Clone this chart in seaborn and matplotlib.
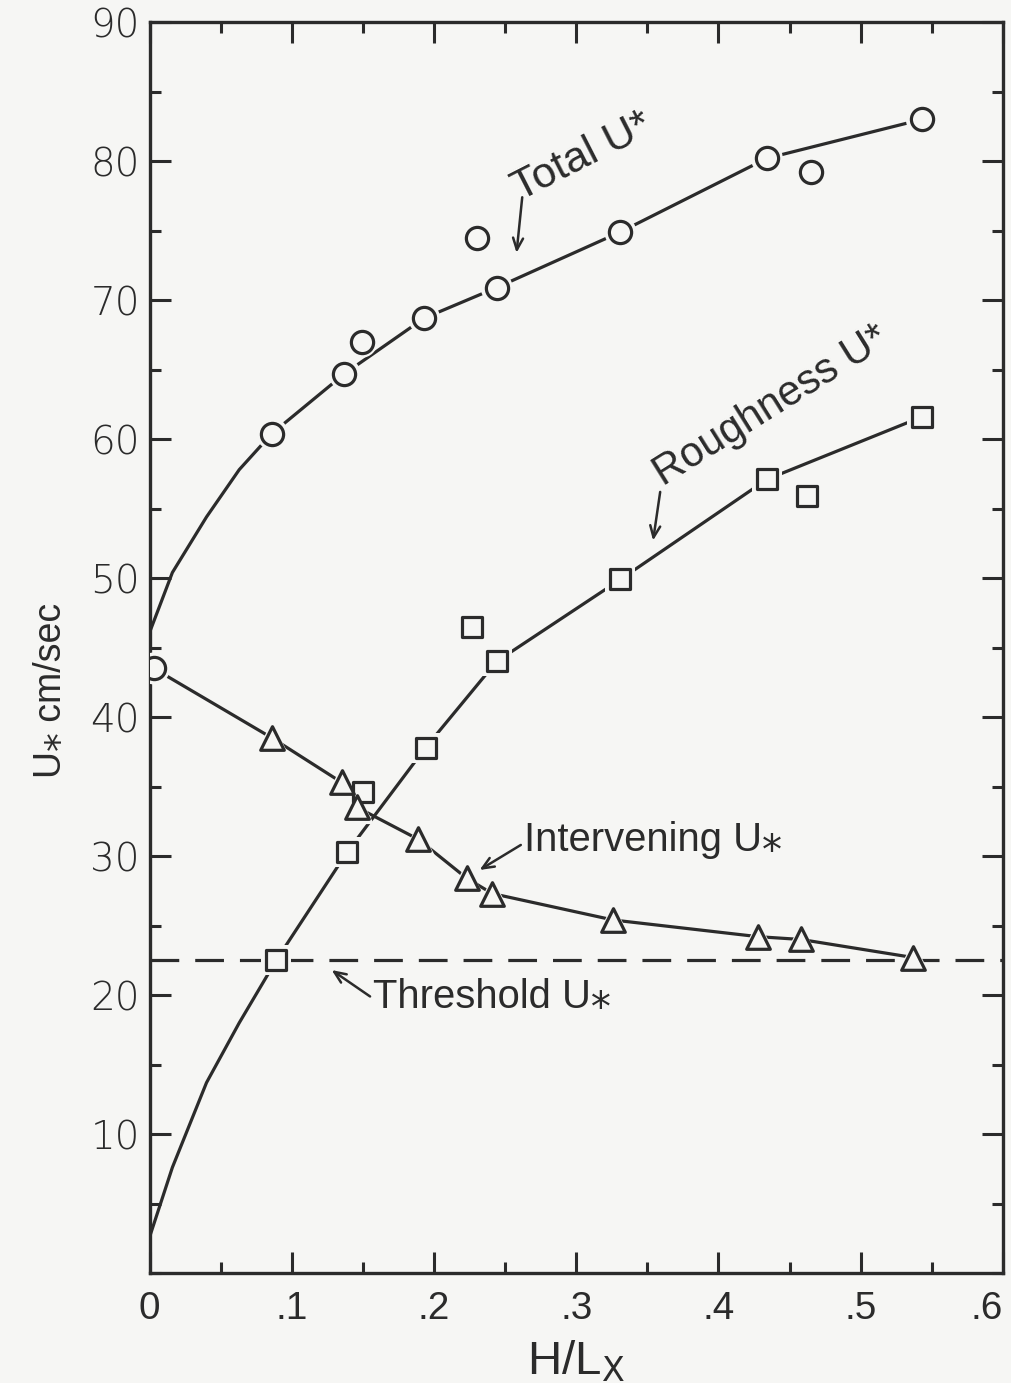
import matplotlib
matplotlib.use("Agg")
import matplotlib.pyplot as plt
import matplotlib.font_manager as fm
from matplotlib.ticker import FixedLocator, MultipleLocator
import pandas as pd
import seaborn as sns

# ---- data: friction velocity U* (cm/sec) versus roughness density H/Lx ----
total_x = [0.003, 0.086, 0.137, 0.149, 0.193, 0.230, 0.244, 0.331, 0.434, 0.465, 0.543]
total_y = [43.5, 60.4, 64.7, 67.0, 68.7, 74.5, 70.9, 74.9, 80.2, 79.2, 83.0]

rough_x = [0.089, 0.139, 0.150, 0.194, 0.227, 0.244, 0.331, 0.434, 0.462, 0.543]
rough_y = [22.5, 30.3, 34.6, 37.8, 46.5, 44.0, 49.9, 57.1, 55.9, 61.6]

interv_x = [0.086, 0.135, 0.146, 0.189, 0.223, 0.241, 0.326, 0.428, 0.458, 0.537]
interv_y = [38.5, 35.3, 33.5, 31.2, 28.4, 27.3, 25.4, 24.2, 24.0, 22.7]

# hand-fitted curves through the observations
total_curve_x = [0.0, 0.016, 0.040, 0.063, 0.086, 0.137, 0.193, 0.244, 0.331, 0.434, 0.543]
total_curve_y = [46.1, 50.4, 54.4, 57.8, 60.4, 64.7, 68.7, 70.9, 74.9, 80.2, 83.0]

rough_curve_x = [0.0, 0.016, 0.040, 0.063, 0.089, 0.139, 0.194, 0.244, 0.331, 0.434, 0.543]
rough_curve_y = [2.6, 7.6, 13.7, 18.0, 22.5, 30.3, 37.8, 44.0, 49.9, 57.1, 61.6]

interv_curve_x = [0.003, 0.086, 0.135, 0.146, 0.189, 0.223, 0.241, 0.326, 0.428, 0.458, 0.537]
interv_curve_y = [43.5, 38.5, 35.3, 33.5, 31.2, 28.4, 27.3, 25.4, 24.2, 24.0, 22.7]

threshold_u = 22.5

x_ticks = [0, 0.1, 0.2, 0.3, 0.4, 0.5, 0.6]
x_tick_labels = ["0", ".1", ".2", ".3", ".4", ".5", ".6"]
y_ticks = [10, 20, 30, 40, 50, 60, 70, 80, 90]
y_tick_labels = ["10", "20", "30", "40", "50", "60", "70", "80", "90"]

# ---- style ----
sns.set_theme(style="ticks")
INK = "#2b2b2b"
PAPER = "#f6f6f4"
REGULAR = ["Liberation Sans", "DejaVu Sans"]

# a condensed face for the labels if one is installed
_names = {f.name for f in fm.fontManager.ttflist}
if "Liberation Sans Narrow" in _names:
    NARROW, NSCALE = ["Liberation Sans Narrow", "DejaVu Sans"], 1.0
else:
    NARROW, NSCALE = REGULAR, 0.9

plt.rcParams["font.family"] = NARROW
plt.rcParams["mathtext.fontset"] = "dejavusans"

fig = plt.figure(figsize=(10.11, 13.83), dpi=100, facecolor=PAPER)
ax = fig.add_axes([0.148, 0.0795, 0.844, 0.9045])
ax.set_facecolor(PAPER)

LW = 2.3

# fitted curves
for cx, cy in [(total_curve_x, total_curve_y),
               (rough_curve_x, rough_curve_y),
               (interv_curve_x, interv_curve_y)]:
    sns.lineplot(x=cx, y=cy, ax=ax, color=INK, lw=LW, sort=False,
                 estimator=None, zorder=2)

# threshold line
ax.axhline(threshold_u, color=INK, lw=LW, dashes=(9, 5), zorder=2)

# markers with a paper-coloured halo so the lines stop short of them
def markers(xs, ys, marker, size):
    df = pd.DataFrame({"x": xs, "y": ys})
    sns.scatterplot(data=df, x="x", y="y", ax=ax, marker=marker, s=(size + 7) ** 2,
                    color=PAPER, edgecolor="none", linewidth=0, zorder=3)
    sns.scatterplot(data=df, x="x", y="y", ax=ax, marker=marker, s=size ** 2,
                    facecolor=PAPER, edgecolor=INK, linewidth=LW, zorder=4)

markers(total_x, total_y, "o", 16)
markers(rough_x, rough_y, "s", 14.5)
markers(interv_x, interv_y, "^", 17)

# ---- annotations ----
arrow = dict(arrowstyle="->,head_length=0.7,head_width=0.3", color=INK, lw=1.8,
             shrinkA=0, shrinkB=0)
USTAR = "U\u204e"   # U with a low asterisk

ax.text(0.304, 80.3, "Total U*", rotation=27, ha="center", va="center",
        fontsize=31, family=REGULAR, color=INK, rotation_mode="anchor",
        zorder=6)
ax.annotate("", xy=(0.258, 73.4), xytext=(0.262, 77.4), arrowprops=arrow)

ax.text(0.437, 62.4, "Roughness U*", rotation=32, ha="center", va="center",
        fontsize=30, family=REGULAR, color=INK, rotation_mode="anchor",
        zorder=6)
ax.annotate("", xy=(0.354, 52.7), xytext=(0.359, 56.2), arrowprops=arrow)

ax.text(0.263, 30.4, f"Intervening {USTAR}", ha="left", va="baseline",
        fontsize=32 * NSCALE, color=INK, zorder=6)
ax.annotate("", xy=(0.232, 29.0), xytext=(0.261, 30.8), arrowprops=arrow)

ax.text(0.157, 19.1, f"Threshold {USTAR}", ha="left", va="baseline",
        fontsize=32 * NSCALE, color=INK, zorder=6)
ax.annotate("", xy=(0.128, 21.8), xytext=(0.155, 19.9), arrowprops=arrow)

# ---- axes ----
ax.set_xlim(0, 0.6)
ax.set_ylim(0, 90)
ax.xaxis.set_major_locator(FixedLocator(x_ticks))
ax.set_xticklabels(x_tick_labels)
ax.xaxis.set_minor_locator(MultipleLocator(0.05))
ax.yaxis.set_major_locator(FixedLocator(y_ticks))
ax.set_yticklabels(y_tick_labels)
ax.yaxis.set_minor_locator(MultipleLocator(5))

ax.tick_params(which="both", direction="in", top=True, right=True, color=INK,
               width=2.2)
ax.tick_params(which="major", length=15)
ax.tick_params(which="minor", length=8)
ax.tick_params(axis="x", which="major", pad=13, labelsize=31 * NSCALE,
               labelcolor=INK)
ax.tick_params(axis="y", which="major", pad=7, labelsize=28, labelcolor=INK)
for lbl in ax.get_yticklabels():
    lbl.set_family(["DejaVu Sans"])
    lbl.set_fontweight("light")
ax.get_xticklabels()[-1].set_horizontalalignment("right")

for sp in ax.spines.values():
    sp.set_color(INK)
    sp.set_linewidth(2.4)

ax.set_xlabel(r"H/L$_{\mathsf{X}}$", fontsize=38 * NSCALE, color=INK)
ax.xaxis.set_label_coords(0.5, -0.053)
ax.set_ylabel(f"{USTAR} cm/sec", fontsize=30 * NSCALE, color=INK)
ax.yaxis.set_label_coords(-0.094, 0.466)

fig.savefig("out.png", dpi=100, facecolor=PAPER)
